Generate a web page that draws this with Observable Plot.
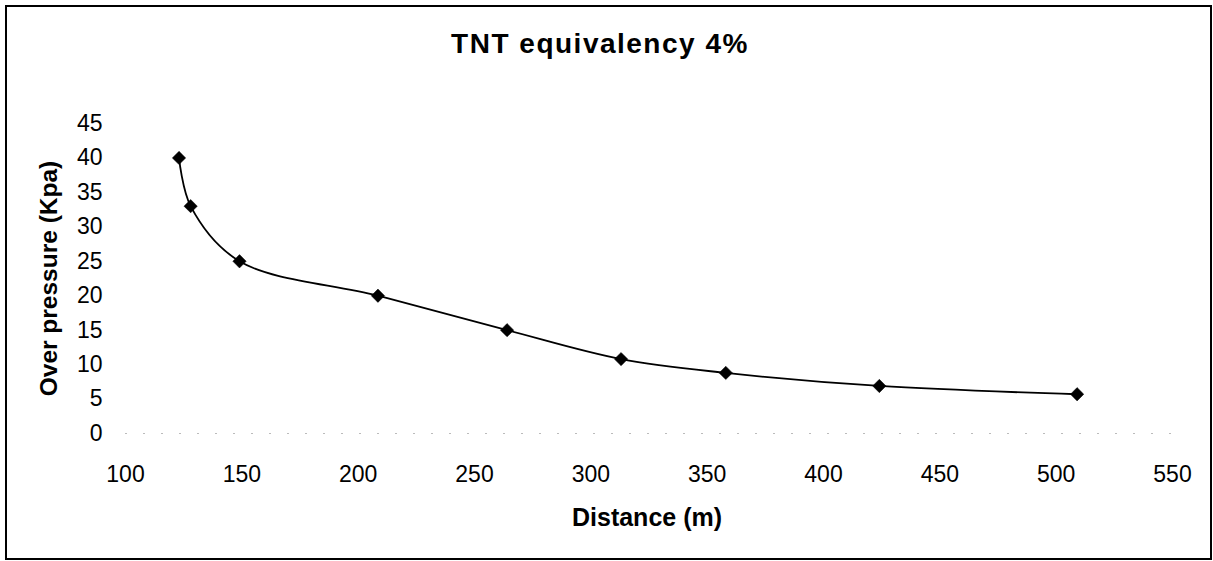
<!DOCTYPE html>
<html>
<head>
<meta charset="utf-8">
<script src="https://cdn.jsdelivr.net/npm/d3@7"></script>
<script src="https://cdn.jsdelivr.net/npm/@observablehq/plot@0.6"></script>
<style>
  html, body { margin: 0; padding: 0; background: #fff; }
  #wrap { position: relative; width: 1213px; height: 561px; overflow: hidden; font-family: "Liberation Sans", Arial, sans-serif; }
  #frame { position: absolute; left: 5px; top: 5px; width: 1207px; height: 555px; box-sizing: border-box; border: 2px solid #000; }
  #title { position: absolute; left: 0; width: 1200px; top: 30px; text-align: center; font-size: 28px; line-height: 28px; font-weight: bold; letter-spacing: 1.5px; color: #000; }
  #chart { position: absolute; left: 0; top: 90px; }
</style>
</head>
<body>
<div id="wrap">
  <div id="frame"></div>
  <div id="title">TNT equivalency 4%</div>
  <div id="chart"></div>
</div>
<script>
// Data
const distance = [123, 128, 149, 208.5, 264, 313, 358, 424, 509];
const overpressure = [40, 33, 25, 20, 15, 10.8, 8.8, 6.9, 5.7];
const xTicks = [100, 150, 200, 250, 300, 350, 400, 450, 500, 550];
const yTicks = [0, 5, 10, 15, 20, 25, 30, 35, 40, 45];
const xLabel = "Distance (m)";
const yLabel = "Over pressure (Kpa)";

const data = distance.map((d, i) => ({distance: d, overpressure: overpressure[i]}));

const chart = Plot.plot({
  width: 1213,
  height: 471,
  marginLeft: 125,
  marginRight: 41,
  marginTop: 33,
  marginBottom: 128,
  style: {fontFamily: '"Liberation Sans", Arial, sans-serif', background: "transparent", color: "#000", overflow: "visible"},
  x: {domain: [100, 550]},
  y: {domain: [0, 45]},
  marks: [
    Plot.ruleY([0], {stroke: "#bbb", strokeWidth: 1, strokeDasharray: "2,16"}),
    Plot.axisX({ticks: xTicks, tickSize: 0, tickPadding: 32, fontSize: 23, label: null, tickFormat: d => String(d)}),
    Plot.axisY({ticks: yTicks, tickSize: 0, tickPadding: 23, fontSize: 23, label: null, tickFormat: d => String(d)}),
    Plot.text([xLabel], {text: d => d, frameAnchor: "bottom", dy: 84, dx: -2, fontSize: 25, fontWeight: "bold", lineAnchor: "middle"}),
    Plot.text([yLabel], {text: d => d, frameAnchor: "left", textAnchor: "middle", dx: -76, rotate: -90, fontSize: 24.5, fontWeight: "bold", lineAnchor: "middle"}),
    Plot.line(data, {x: "distance", y: "overpressure", stroke: "#000", strokeWidth: 1.8, curve: "catmull-rom"}),
    Plot.dot(data, {x: "distance", y: "overpressure", symbol: "diamond2", r: 6, fill: "#000", stroke: "#000", strokeWidth: 0.5})
  ]
});
document.getElementById("chart").appendChild(chart);
</script>
</body>
</html>
